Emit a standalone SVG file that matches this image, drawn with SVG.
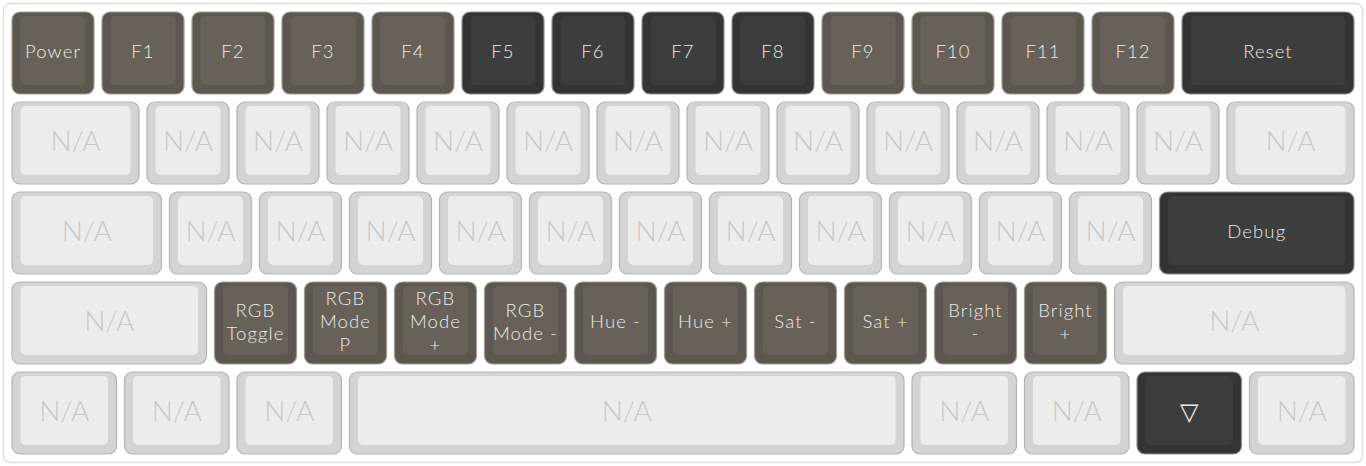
<svg xmlns="http://www.w3.org/2000/svg" width="1366" height="466" viewBox="0 0 1366 466">
<style>
.o{stroke-width:1.2}
.br .o{fill:#5c574f;stroke:#9e9b97}
.br .i{fill:#67615a}
.dk .o{fill:#333534;stroke:#8f9190}
.dk .i{fill:#3c3e3d}
.na .o{fill:#d4d4d4;stroke:#b3b3b3}
.na .i{fill:#ececec}
text{font-family:Lato,"Liberation Sans",sans-serif;text-anchor:middle}
.br text,.dk text{fill:#ecebe8;font-size:18.5px;letter-spacing:1.1px;font-weight:300}
.na text{fill:#c9c9c9;font-size:28px;font-weight:300}
</style>
<rect x="3.5" y="3.5" width="1359" height="459" rx="7" fill="#ffffff" stroke="#dedede" stroke-width="1.5"/>
<g id="keys">
<!-- Row 0 -->
<g id="k-power" class="br"><rect class="o" x="12" y="12" width="82" height="82" rx="8"/><rect class="i" x="20.5" y="16" width="65" height="69" rx="5"/><text x="53" y="58">Power</text></g>
<g id="k-f1" class="br"><rect class="o" x="102" y="12" width="82" height="82" rx="8"/><rect class="i" x="110.5" y="16" width="65" height="69" rx="5"/><text x="143" y="58">F1</text></g>
<g id="k-f2" class="br"><rect class="o" x="192" y="12" width="82" height="82" rx="8"/><rect class="i" x="200.5" y="16" width="65" height="69" rx="5"/><text x="233" y="58">F2</text></g>
<g id="k-f3" class="br"><rect class="o" x="282" y="12" width="82" height="82" rx="8"/><rect class="i" x="290.5" y="16" width="65" height="69" rx="5"/><text x="323" y="58">F3</text></g>
<g id="k-f4" class="br"><rect class="o" x="372" y="12" width="82" height="82" rx="8"/><rect class="i" x="380.5" y="16" width="65" height="69" rx="5"/><text x="413" y="58">F4</text></g>
<g id="k-f5" class="dk"><rect class="o" x="462" y="12" width="82" height="82" rx="8"/><rect class="i" x="470.5" y="16" width="65" height="69" rx="5"/><text x="503" y="58">F5</text></g>
<g id="k-f6" class="dk"><rect class="o" x="552" y="12" width="82" height="82" rx="8"/><rect class="i" x="560.5" y="16" width="65" height="69" rx="5"/><text x="593" y="58">F6</text></g>
<g id="k-f7" class="dk"><rect class="o" x="642" y="12" width="82" height="82" rx="8"/><rect class="i" x="650.5" y="16" width="65" height="69" rx="5"/><text x="683" y="58">F7</text></g>
<g id="k-f8" class="dk"><rect class="o" x="732" y="12" width="82" height="82" rx="8"/><rect class="i" x="740.5" y="16" width="65" height="69" rx="5"/><text x="773" y="58">F8</text></g>
<g id="k-f9" class="br"><rect class="o" x="822" y="12" width="82" height="82" rx="8"/><rect class="i" x="830.5" y="16" width="65" height="69" rx="5"/><text x="863" y="58">F9</text></g>
<g id="k-f10" class="br"><rect class="o" x="912" y="12" width="82" height="82" rx="8"/><rect class="i" x="920.5" y="16" width="65" height="69" rx="5"/><text x="953" y="58">F10</text></g>
<g id="k-f11" class="br"><rect class="o" x="1002" y="12" width="82" height="82" rx="8"/><rect class="i" x="1010.5" y="16" width="65" height="69" rx="5"/><text x="1043" y="58">F11</text></g>
<g id="k-f12" class="br"><rect class="o" x="1092" y="12" width="82" height="82" rx="8"/><rect class="i" x="1100.5" y="16" width="65" height="69" rx="5"/><text x="1133" y="58">F12</text></g>
<g id="k-reset" class="dk"><rect class="o" x="1182" y="12" width="172" height="82" rx="8"/><rect class="i" x="1190.5" y="16" width="155" height="69" rx="5"/><text x="1268" y="58">Reset</text></g>
<!-- Row 1 -->
<g id="k-r1-0" class="na"><rect class="o" x="12" y="102" width="127" height="82" rx="8"/><rect class="i" x="20.5" y="106" width="110" height="69" rx="5"/><text x="75.5" y="151">N/A</text></g>
<g id="k-r1-1" class="na"><rect class="o" x="147" y="102" width="82" height="82" rx="8"/><rect class="i" x="155.5" y="106" width="65" height="69" rx="5"/><text x="188" y="151">N/A</text></g>
<g id="k-r1-2" class="na"><rect class="o" x="237" y="102" width="82" height="82" rx="8"/><rect class="i" x="245.5" y="106" width="65" height="69" rx="5"/><text x="278" y="151">N/A</text></g>
<g id="k-r1-3" class="na"><rect class="o" x="327" y="102" width="82" height="82" rx="8"/><rect class="i" x="335.5" y="106" width="65" height="69" rx="5"/><text x="368" y="151">N/A</text></g>
<g id="k-r1-4" class="na"><rect class="o" x="417" y="102" width="82" height="82" rx="8"/><rect class="i" x="425.5" y="106" width="65" height="69" rx="5"/><text x="458" y="151">N/A</text></g>
<g id="k-r1-5" class="na"><rect class="o" x="507" y="102" width="82" height="82" rx="8"/><rect class="i" x="515.5" y="106" width="65" height="69" rx="5"/><text x="548" y="151">N/A</text></g>
<g id="k-r1-6" class="na"><rect class="o" x="597" y="102" width="82" height="82" rx="8"/><rect class="i" x="605.5" y="106" width="65" height="69" rx="5"/><text x="638" y="151">N/A</text></g>
<g id="k-r1-7" class="na"><rect class="o" x="687" y="102" width="82" height="82" rx="8"/><rect class="i" x="695.5" y="106" width="65" height="69" rx="5"/><text x="728" y="151">N/A</text></g>
<g id="k-r1-8" class="na"><rect class="o" x="777" y="102" width="82" height="82" rx="8"/><rect class="i" x="785.5" y="106" width="65" height="69" rx="5"/><text x="818" y="151">N/A</text></g>
<g id="k-r1-9" class="na"><rect class="o" x="867" y="102" width="82" height="82" rx="8"/><rect class="i" x="875.5" y="106" width="65" height="69" rx="5"/><text x="908" y="151">N/A</text></g>
<g id="k-r1-10" class="na"><rect class="o" x="957" y="102" width="82" height="82" rx="8"/><rect class="i" x="965.5" y="106" width="65" height="69" rx="5"/><text x="998" y="151">N/A</text></g>
<g id="k-r1-11" class="na"><rect class="o" x="1047" y="102" width="82" height="82" rx="8"/><rect class="i" x="1055.5" y="106" width="65" height="69" rx="5"/><text x="1088" y="151">N/A</text></g>
<g id="k-r1-12" class="na"><rect class="o" x="1137" y="102" width="82" height="82" rx="8"/><rect class="i" x="1145.5" y="106" width="65" height="69" rx="5"/><text x="1178" y="151">N/A</text></g>
<g id="k-r1-13" class="na"><rect class="o" x="1227" y="102" width="127" height="82" rx="8"/><rect class="i" x="1235.5" y="106" width="110" height="69" rx="5"/><text x="1290.5" y="151">N/A</text></g>
<!-- Row 2 -->
<g id="k-r2-0" class="na"><rect class="o" x="12" y="192" width="149.5" height="82" rx="8"/><rect class="i" x="20.5" y="196" width="132.5" height="69" rx="5"/><text x="86.75" y="241">N/A</text></g>
<g id="k-r2-1" class="na"><rect class="o" x="169.5" y="192" width="82" height="82" rx="8"/><rect class="i" x="178" y="196" width="65" height="69" rx="5"/><text x="210.5" y="241">N/A</text></g>
<g id="k-r2-2" class="na"><rect class="o" x="259.5" y="192" width="82" height="82" rx="8"/><rect class="i" x="268" y="196" width="65" height="69" rx="5"/><text x="300.5" y="241">N/A</text></g>
<g id="k-r2-3" class="na"><rect class="o" x="349.5" y="192" width="82" height="82" rx="8"/><rect class="i" x="358" y="196" width="65" height="69" rx="5"/><text x="390.5" y="241">N/A</text></g>
<g id="k-r2-4" class="na"><rect class="o" x="439.5" y="192" width="82" height="82" rx="8"/><rect class="i" x="448" y="196" width="65" height="69" rx="5"/><text x="480.5" y="241">N/A</text></g>
<g id="k-r2-5" class="na"><rect class="o" x="529.5" y="192" width="82" height="82" rx="8"/><rect class="i" x="538" y="196" width="65" height="69" rx="5"/><text x="570.5" y="241">N/A</text></g>
<g id="k-r2-6" class="na"><rect class="o" x="619.5" y="192" width="82" height="82" rx="8"/><rect class="i" x="628" y="196" width="65" height="69" rx="5"/><text x="660.5" y="241">N/A</text></g>
<g id="k-r2-7" class="na"><rect class="o" x="709.5" y="192" width="82" height="82" rx="8"/><rect class="i" x="718" y="196" width="65" height="69" rx="5"/><text x="750.5" y="241">N/A</text></g>
<g id="k-r2-8" class="na"><rect class="o" x="799.5" y="192" width="82" height="82" rx="8"/><rect class="i" x="808" y="196" width="65" height="69" rx="5"/><text x="840.5" y="241">N/A</text></g>
<g id="k-r2-9" class="na"><rect class="o" x="889.5" y="192" width="82" height="82" rx="8"/><rect class="i" x="898" y="196" width="65" height="69" rx="5"/><text x="930.5" y="241">N/A</text></g>
<g id="k-r2-10" class="na"><rect class="o" x="979.5" y="192" width="82" height="82" rx="8"/><rect class="i" x="988" y="196" width="65" height="69" rx="5"/><text x="1020.5" y="241">N/A</text></g>
<g id="k-r2-11" class="na"><rect class="o" x="1069.5" y="192" width="82" height="82" rx="8"/><rect class="i" x="1078" y="196" width="65" height="69" rx="5"/><text x="1110.5" y="241">N/A</text></g>
<g id="k-debug" class="dk"><rect class="o" x="1159.5" y="192" width="194.5" height="82" rx="8"/><rect class="i" x="1168" y="196" width="177.5" height="69" rx="5"/><text x="1256.75" y="238">Debug</text></g>
<!-- Row 3 -->
<g id="k-r3-0" class="na"><rect class="o" x="12" y="282" width="194.5" height="82" rx="8"/><rect class="i" x="20.5" y="286" width="177.5" height="69" rx="5"/><text x="109.25" y="331">N/A</text></g>
<g id="k-rgb-toggle" class="br"><rect class="o" x="214.5" y="282" width="82" height="82" rx="8"/><rect class="i" x="223" y="286" width="65" height="69" rx="5"/><text x="255.5" y="317">RGB</text><text x="255.5" y="340">Toggle</text></g>
<g id="k-rgb-mode-p" class="br"><rect class="o" x="304.5" y="282" width="82" height="82" rx="8"/><rect class="i" x="313" y="286" width="65" height="69" rx="5"/><text x="345.5" y="305">RGB</text><text x="345.5" y="328">Mode</text><text x="345.5" y="351">P</text></g>
<g id="k-rgb-mode-plus" class="br"><rect class="o" x="394.5" y="282" width="82" height="82" rx="8"/><rect class="i" x="403" y="286" width="65" height="69" rx="5"/><text x="435.5" y="305">RGB</text><text x="435.5" y="328">Mode</text><text x="435.5" y="351">+</text></g>
<g id="k-rgb-mode-minus" class="br"><rect class="o" x="484.5" y="282" width="82" height="82" rx="8"/><rect class="i" x="493" y="286" width="65" height="69" rx="5"/><text x="525.5" y="317">RGB</text><text x="525.5" y="340">Mode -</text></g>
<g id="k-hue-minus" class="br"><rect class="o" x="574.5" y="282" width="82" height="82" rx="8"/><rect class="i" x="583" y="286" width="65" height="69" rx="5"/><text x="615.5" y="328">Hue -</text></g>
<g id="k-hue-plus" class="br"><rect class="o" x="664.5" y="282" width="82" height="82" rx="8"/><rect class="i" x="673" y="286" width="65" height="69" rx="5"/><text x="705.5" y="328">Hue +</text></g>
<g id="k-sat-minus" class="br"><rect class="o" x="754.5" y="282" width="82" height="82" rx="8"/><rect class="i" x="763" y="286" width="65" height="69" rx="5"/><text x="795.5" y="328">Sat -</text></g>
<g id="k-sat-plus" class="br"><rect class="o" x="844.5" y="282" width="82" height="82" rx="8"/><rect class="i" x="853" y="286" width="65" height="69" rx="5"/><text x="885.5" y="328">Sat +</text></g>
<g id="k-bright-minus" class="br"><rect class="o" x="934.5" y="282" width="82" height="82" rx="8"/><rect class="i" x="943" y="286" width="65" height="69" rx="5"/><text x="975.5" y="317">Bright</text><text x="975.5" y="340">-</text></g>
<g id="k-bright-plus" class="br"><rect class="o" x="1024.5" y="282" width="82" height="82" rx="8"/><rect class="i" x="1033" y="286" width="65" height="69" rx="5"/><text x="1065.5" y="317">Bright</text><text x="1065.5" y="340">+</text></g>
<g id="k-r3-12" class="na"><rect class="o" x="1114.5" y="282" width="239.5" height="82" rx="8"/><rect class="i" x="1123" y="286" width="222.5" height="69" rx="5"/><text x="1234.25" y="331">N/A</text></g>
<!-- Row 4 -->
<g id="k-r4-0" class="na"><rect class="o" x="12" y="372" width="104.5" height="82" rx="8"/><rect class="i" x="20.5" y="376" width="87.5" height="69" rx="5"/><text x="64.25" y="421">N/A</text></g>
<g id="k-r4-1" class="na"><rect class="o" x="124.5" y="372" width="104.5" height="82" rx="8"/><rect class="i" x="133" y="376" width="87.5" height="69" rx="5"/><text x="176.75" y="421">N/A</text></g>
<g id="k-r4-2" class="na"><rect class="o" x="237" y="372" width="104.5" height="82" rx="8"/><rect class="i" x="245.5" y="376" width="87.5" height="69" rx="5"/><text x="289.25" y="421">N/A</text></g>
<g id="k-space" class="na"><rect class="o" x="349.5" y="372" width="554.5" height="82" rx="8"/><rect class="i" x="358" y="376" width="537.5" height="69" rx="5"/><text x="626.75" y="421">N/A</text></g>
<g id="k-r4-4" class="na"><rect class="o" x="912" y="372" width="104.5" height="82" rx="8"/><rect class="i" x="920.5" y="376" width="87.5" height="69" rx="5"/><text x="964.25" y="421">N/A</text></g>
<g id="k-r4-5" class="na"><rect class="o" x="1024.5" y="372" width="104.5" height="82" rx="8"/><rect class="i" x="1033" y="376" width="87.5" height="69" rx="5"/><text x="1076.75" y="421">N/A</text></g>
<g id="k-fn" class="dk"><rect class="o" x="1137" y="372" width="104.5" height="82" rx="8"/><rect class="i" x="1145.5" y="376" width="87.5" height="69" rx="5"/><text x="1189.25" y="420" style="font-family:'DejaVu Sans',sans-serif;font-size:24px;letter-spacing:0">▽</text></g>
<g id="k-r4-7" class="na"><rect class="o" x="1249.5" y="372" width="104.5" height="82" rx="8"/><rect class="i" x="1258" y="376" width="87.5" height="69" rx="5"/><text x="1301.75" y="421">N/A</text></g>
</g>
<g id="connectors"/>
</svg>
